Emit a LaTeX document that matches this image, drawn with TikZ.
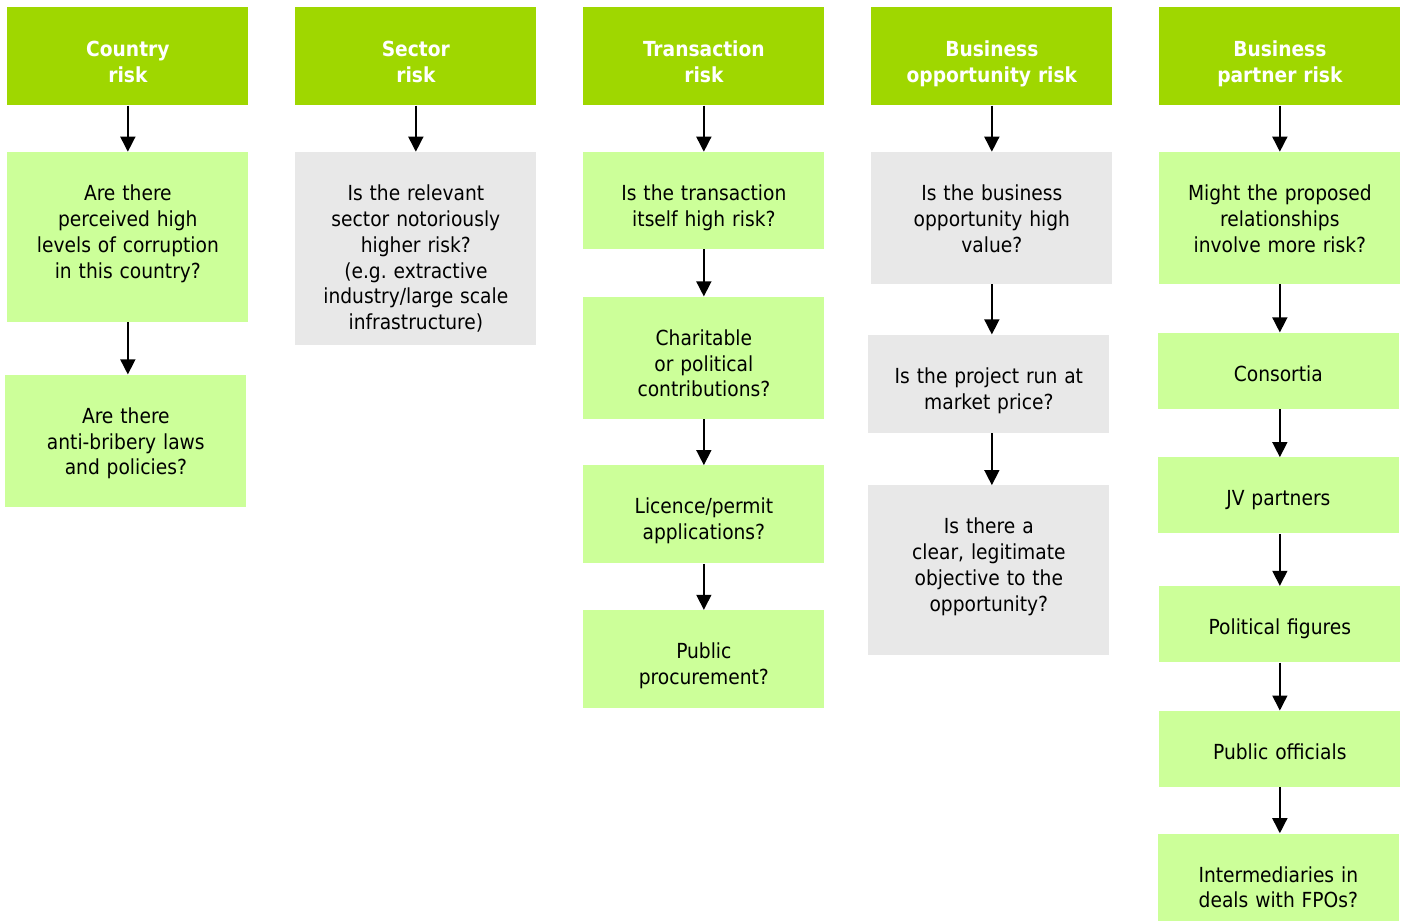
\documentclass[tikz,border=0pt]{standalone}
\usepackage{fontspec}
\setmainfont{DejaVu Sans Condensed}
\usetikzlibrary{positioning, arrows.meta}

\definecolor{riskgreen}{RGB}{159,215,0}
\definecolor{palegreen}{RGB}{204,255,153}
\definecolor{palegrey}{RGB}{232,232,232}

\begin{document}
\begin{tikzpicture}[
  header/.style={
    fill=riskgreen,
    anchor=north west,
    text width=4.42cm,
    inner xsep=0.2cm,
    inner ysep=0pt,
    text height=0.99cm,
    text depth=0.97cm,
    align=center,
    text=white,
    font=\fontsize{11.8}{14.7}\selectfont\bfseries
  },
  question/.style={
    fill=palegreen,
    text width=4.42cm,
    inner xsep=0.2cm,
    inner ysep=0pt,
    text height=0.97cm,
    align=center,
    font=\fontsize{11.8}{14.7}\selectfont
  },
  greyquestion/.style={question, fill=palegrey},
  flow/.style={-{Triangle[width=0.3cm,length=0.3cm]}, line width=0.85pt},
  node distance=0.94cm
]

\useasboundingbox (0,0) rectangle (28.08,-18.42);

% Headers
\node[header] (CountryRisk) at (0.14,-0.14) {Country\\risk};
\node[header] (SectorRisk) at (5.90,-0.14) {Sector\\risk};
\node[header] (TransactionRisk) at (11.66,-0.14) {Transaction\\risk};
\node[header] (OpportunityRisk) at (17.42,-0.14) {Business\\opportunity risk};
\node[header] (PartnerRisk) at (23.18,-0.14) {Business\\partner risk};

% Country risk
\node[question, text depth=2.43cm, below=0.92cm of CountryRisk] (Corruption) {
  Are there\\perceived high\\levels of corruption\\in this country?
};
\node[question, text depth=1.67cm, below=1.04cm of Corruption, xshift=-0.04cm] (AntiBribery) {
  Are there\\anti-bribery laws\\and policies?
};

% Sector risk
\node[greyquestion, text depth=2.89cm, below=0.92cm of SectorRisk] (Sector) {
  Is the relevant\\sector notoriously\\higher risk?\\(e.g.\ extractive\\industry/large scale\\infrastructure)
};

% Transaction risk
\node[question, text depth=0.97cm, below=0.92cm of TransactionRisk] (Transaction) {
  Is the transaction\\itself high risk?
};
\node[question, text depth=1.47cm, below=of Transaction] (Charitable) {
  Charitable\\or political\\contributions?
};
\node[question, text depth=0.99cm, below=0.92cm of Charitable] (Licence) {
  Licence/permit\\applications?
};
\node[question, text depth=0.99cm, below=0.92cm of Licence] (Procurement) {
  Public\\procurement?
};

% Business opportunity risk
\node[greyquestion, text depth=1.67cm, below=0.92cm of OpportunityRisk] (HighValue) {
  Is the business\\opportunity high\\value?
};
\node[greyquestion, text depth=0.99cm, below=1.0cm of HighValue, xshift=-0.06cm] (MarketPrice) {
  Is the project run at\\market price?
};
\node[greyquestion, text depth=2.43cm, below=1.04cm of MarketPrice] (Objective) {
  Is there a\\clear, legitimate\\objective to the\\opportunity?
};

% Business partner risk
\node[question, text depth=1.67cm, below=0.92cm of PartnerRisk] (Relationships) {
  Might the proposed\\relationships\\involve more risk?
};
\node[question, text depth=0.55cm, below=0.96cm of Relationships, xshift=-0.03cm] (Consortia) {Consortia};
\node[question, text depth=0.55cm, below=0.96cm of Consortia] (JVPartners) {JV partners};
\node[question, text depth=0.55cm, below=1.04cm of JVPartners, xshift=0.03cm] (PoliticalFigures) {Political figures};
\node[question, text depth=0.55cm, below=0.96cm of PoliticalFigures] (PublicOfficials) {Public officials};
\node[question, text depth=0.85cm, below=0.92cm of PublicOfficials, xshift=-0.03cm] (Intermediaries) {
  Intermediaries in\\deals with FPOs?
};

% Arrows
\draw[flow] (CountryRisk.south) -- (CountryRisk.south |- Corruption.north);
\draw[flow] (CountryRisk.south |- Corruption.south) -- (CountryRisk.south |- AntiBribery.north);
\draw[flow] (SectorRisk.south) -- (SectorRisk.south |- Sector.north);
\draw[flow] (TransactionRisk.south) -- (TransactionRisk.south |- Transaction.north);
\draw[flow] (TransactionRisk.south |- Transaction.south) -- (TransactionRisk.south |- Charitable.north);
\draw[flow] (TransactionRisk.south |- Charitable.south) -- (TransactionRisk.south |- Licence.north);
\draw[flow] (TransactionRisk.south |- Licence.south) -- (TransactionRisk.south |- Procurement.north);
\draw[flow] (OpportunityRisk.south) -- (OpportunityRisk.south |- HighValue.north);
\draw[flow] (OpportunityRisk.south |- HighValue.south) -- (OpportunityRisk.south |- MarketPrice.north);
\draw[flow] (OpportunityRisk.south |- MarketPrice.south) -- (OpportunityRisk.south |- Objective.north);
\draw[flow] (PartnerRisk.south) -- (PartnerRisk.south |- Relationships.north);
\draw[flow] (PartnerRisk.south |- Relationships.south) -- (PartnerRisk.south |- Consortia.north);
\draw[flow] (PartnerRisk.south |- Consortia.south) -- (PartnerRisk.south |- JVPartners.north);
\draw[flow] (PartnerRisk.south |- JVPartners.south) -- (PartnerRisk.south |- PoliticalFigures.north);
\draw[flow] (PartnerRisk.south |- PoliticalFigures.south) -- (PartnerRisk.south |- PublicOfficials.north);
\draw[flow] (PartnerRisk.south |- PublicOfficials.south) -- (PartnerRisk.south |- Intermediaries.north);

\end{tikzpicture}
\end{document}
